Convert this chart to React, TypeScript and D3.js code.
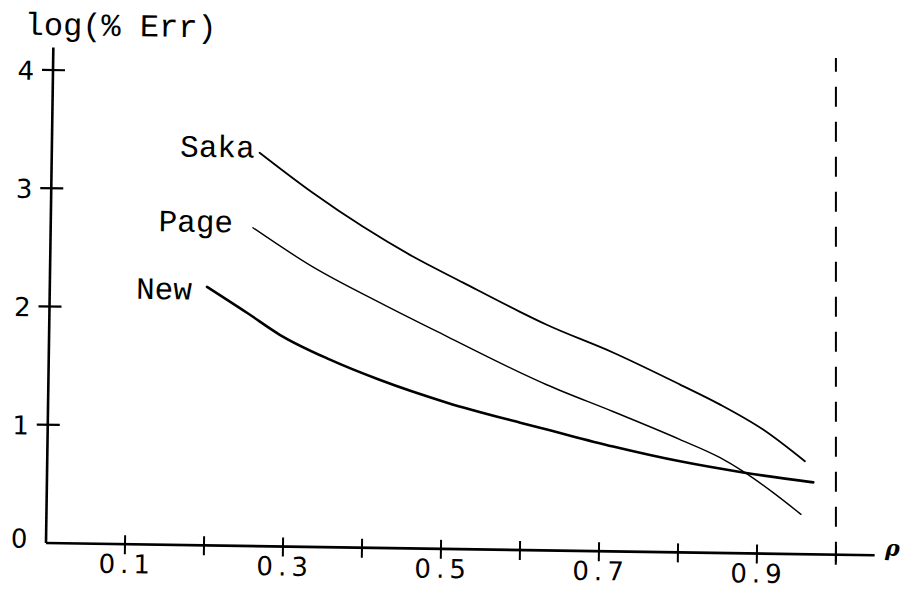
import React from "react";
import * as d3 from "d3";

// ---- data ----
const xTicks = [0.1, 0.2, 0.3, 0.4, 0.5, 0.6, 0.7, 0.8, 0.9, 1.0];
const xTickLabels = ["0.1", "0.3", "0.5", "0.7", "0.9"];
const yTicks = [1, 2, 3, 4];
const yTickLabels = ["0", "1", "2", "3", "4"];

const seriesNames = ["Saka", "Page", "New"];

const sakaX = [0.263, 0.331, 0.395, 0.459, 0.523, 0.595, 0.629, 0.714, 0.799, 0.85, 0.905, 0.959];
const sakaY = [3.327, 2.995, 2.715, 2.468, 2.254, 2.016, 1.91, 1.682, 1.421, 1.257, 1.051, 0.786];

const pageX = [0.256, 0.332, 0.418, 0.504, 0.597, 0.63, 0.715, 0.8, 0.851, 0.881, 0.919, 0.955];
const pageY = [2.692, 2.37, 2.074, 1.795, 1.5, 1.403, 1.183, 0.956, 0.808, 0.693, 0.519, 0.337];

const newX = [0.199, 0.25, 0.292, 0.356, 0.419, 0.505, 0.598, 0.632, 0.716, 0.801, 0.881, 0.97];
const newY = [2.186, 1.972, 1.79, 1.586, 1.422, 1.237, 1.077, 1.022, 0.887, 0.77, 0.684, 0.609];

const asymptote = 1.0;

export default function App() {
  const W = 904;
  const H = 590;
  const tilt = 0.85;
  const x = d3.scaleLinear().domain([0, 1]).range([46, 836]);
  const y = d3.scaleLinear().domain([0, 4]).range([543, 70]);

  const line = d3
    .line<[number, number]>()
    .x((d) => x(d[0]))
    .y((d) => y(d[1]))
    .curve(d3.curveMonotoneX);

  const series = [
    { name: seriesNames[0], xs: sakaX, ys: sakaY, w: 1.8, lx: -5, ly: 5 },
    { name: seriesNames[1], xs: pageX, ys: pageY, w: 1.4, lx: -20, ly: 5 },
    { name: seriesNames[2], xs: newX, ys: newY, w: 2.6, lx: -15, ly: 13 },
  ];

  const numFont = "'DejaVu Sans', sans-serif";
  const monoFont = "'Liberation Mono', monospace";

  return (
    <svg
      width={W}
      height={H}
      style={{ position: "absolute", left: 0, top: 0, background: "#fff" }}
    >
      <rect x={0} y={0} width={W} height={H} fill="#fff" />
      <g transform={`rotate(${tilt}, ${x(0)}, ${y(0)})`}>
        {/* title */}
        <text x={x(0) - 29} y={y(4) - 35} fontFamily={monoFont} fontSize={32} fill="#000">
          log(% Err)
        </text>

        {/* axes */}
        <line x1={x(0)} y1={y(0)} x2={x(0)} y2={y(4.19)} stroke="#000" strokeWidth={2.6} />
        <line x1={x(0)} y1={y(0)} x2={x(1.049)} y2={y(0)} stroke="#000" strokeWidth={2.6} />

        {/* y ticks */}
        {yTicks.map((t) => (
          <line key={"yt" + t} x1={x(0) - 11} x2={x(0) + 12} y1={y(t)} y2={y(t)} stroke="#000" strokeWidth={2.2} />
        ))}
        {yTickLabels.map((lab, i) => (
          <text
            key={"yl" + lab}
            x={x(0) - 27}
            y={y(i) + (i === 0 ? 5 : 10)}
            textAnchor="middle"
            fontFamily={numFont}
            fontSize={26}
            fill="#000"
          >
            {lab}
          </text>
        ))}

        {/* x ticks */}
        {xTicks.map((t) => (
          <line key={"xt" + t} x1={x(t)} x2={x(t)} y1={y(0) - 9} y2={y(0) + 10} stroke="#000" strokeWidth={2} />
        ))}
        {xTickLabels.map((lab) => (
          <text
            key={"xl" + lab}
            x={x(+lab) + 2}
            y={y(0) + 29}
            textAnchor="middle"
            fontFamily={numFont}
            fontSize={26}
            letterSpacing={5}
            fill="#000"
          >
            {lab}
          </text>
        ))}

        {/* asymptote (drawn upright, as in the reference) */}
        <g transform={`rotate(${-tilt}, ${x(asymptote)}, ${y(0)})`}>
          <line
            x1={x(asymptote)}
            x2={x(asymptote)}
            y1={y(-0.06)}
            y2={y(4.2)}
            stroke="#000"
            strokeWidth={2}
            strokeDasharray="20 15"
          />
        </g>

        {/* curves */}
        {series.map((s) => {
          const pts = s.xs.map((v, i) => [v, s.ys[i]] as [number, number]);
          return (
            <g key={s.name}>
              <path d={line(pts) || ""} fill="none" stroke="#000" strokeWidth={s.w} strokeLinecap="round" />
              <text
                x={x(pts[0][0]) + s.lx}
                y={y(pts[0][1]) + s.ly}
                textAnchor="end"
                fontFamily={monoFont}
                fontSize={31}
                fill="#000"
              >
                {s.name}
              </text>
            </g>
          );
        })}

        {/* x-axis symbol */}
        <text
          x={x(1.062)}
          y={y(0)}
          fontFamily="'DejaVu Serif', serif"
          fontStyle="italic"
          fontWeight="bold"
          fontSize={22}
          fill="#000"
        >
          ρ
        </text>
      </g>
    </svg>
  );
}
